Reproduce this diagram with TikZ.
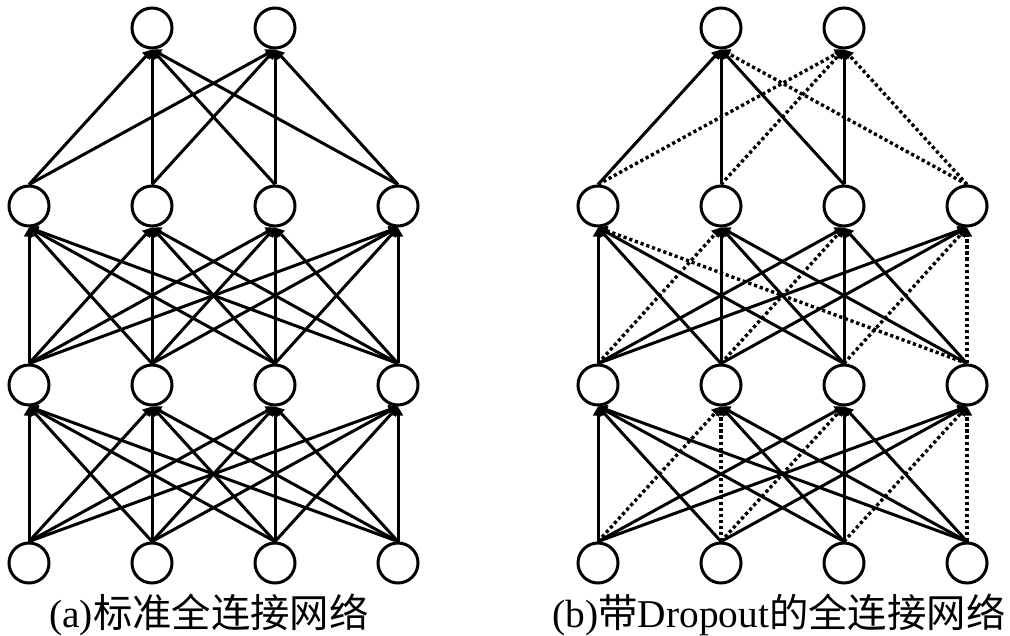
\documentclass[tikz,border=0pt]{standalone}
\usepackage{fontspec}
\setmainfont{Liberation Serif}
\newfontfamily\cjk{Noto Sans CJK SC}
\usetikzlibrary{arrows.meta}
\tikzset{
  neuron/.style = {circle, draw, line width=0.075cm, minimum size=1cm, inner sep=0pt, fill=white},
  link/.style = {line width=0.075cm, -{Triangle[length=6.5pt,width=7pt]}},
  droplink/.style = {link, line width=0.085cm, dash pattern=on 2.3pt off 2pt},
  caption/.style = {anchor=base, inner sep=0pt, font=\fontsize{28}{32}\selectfont}
}

\begin{document}
\begin{tikzpicture}[x=0.025cm, y=-0.025cm]
  \useasboundingbox (0,0) rectangle (1010,636);
  % neurons of both nets
  \foreach \net/\dx in {a/0, b/569} {
    \foreach \i/\x in {1/29, 2/152, 3/275, 4/398} {
      \node[neuron] (\net-in-\i) at (\x+\dx, 563) {};
      \node[neuron] (\net-hA-\i) at (\x+\dx, 385) {};
      \node[neuron] (\net-hB-\i) at (\x+\dx, 206) {};
    }
    \node[neuron] (\net-out-1) at (152+\dx, 28) {};
    \node[neuron] (\net-out-2) at (275+\dx, 28) {};
  }
  % (a) all connections kept
  \foreach \s in {1,...,4} \foreach \t in {1,...,4} {
    \draw[link] (a-in-\s.north) -- (a-hA-\t.south);
    \draw[link] (a-hA-\s.north) -- (a-hB-\t.south);
  }
  \foreach \s in {1,...,4} \foreach \t in {1,2}
    \draw[link] (a-hB-\s.north) -- (a-out-\t.south);
  % (b) dropped connections
  \foreach \s/\t in {1/2, 2/2, 2/3, 3/4, 4/4}
    \draw[droplink] (b-in-\s.north) -- (b-hA-\t.south);
  \foreach \s/\t in {4/1, 1/2, 2/3, 3/4, 4/4}
    \draw[droplink] (b-hA-\s.north) -- (b-hB-\t.south);
  \foreach \s/\t in {4/1, 1/2, 2/2, 4/2}
    \draw[droplink] (b-hB-\s.north) -- (b-out-\t.south);
  % (b) kept connections
  \foreach \s/\t in {1/1, 2/1, 3/1, 4/1, 3/2, 4/2, 1/3, 3/3, 4/3, 1/4, 2/4}
    \draw[link] (b-in-\s.north) -- (b-hA-\t.south);
  \foreach \s/\t in {1/1, 2/1, 3/1, 2/2, 3/2, 4/2, 1/3, 3/3, 4/3, 1/4, 2/4}
    \draw[link] (b-hA-\s.north) -- (b-hB-\t.south);
  \foreach \s/\t in {1/1, 2/1, 3/1, 3/2}
    \draw[link] (b-hB-\s.north) -- (b-out-\t.south);
  % captions
  \node[caption] (cap-a) at (209, 627) {(a){\cjk 标准全连接网络}};
  \node[caption] (cap-b) at (779, 627) {(b){\cjk 带}Dropout{\cjk 的全连接网络}};
\end{tikzpicture}
\end{document}
